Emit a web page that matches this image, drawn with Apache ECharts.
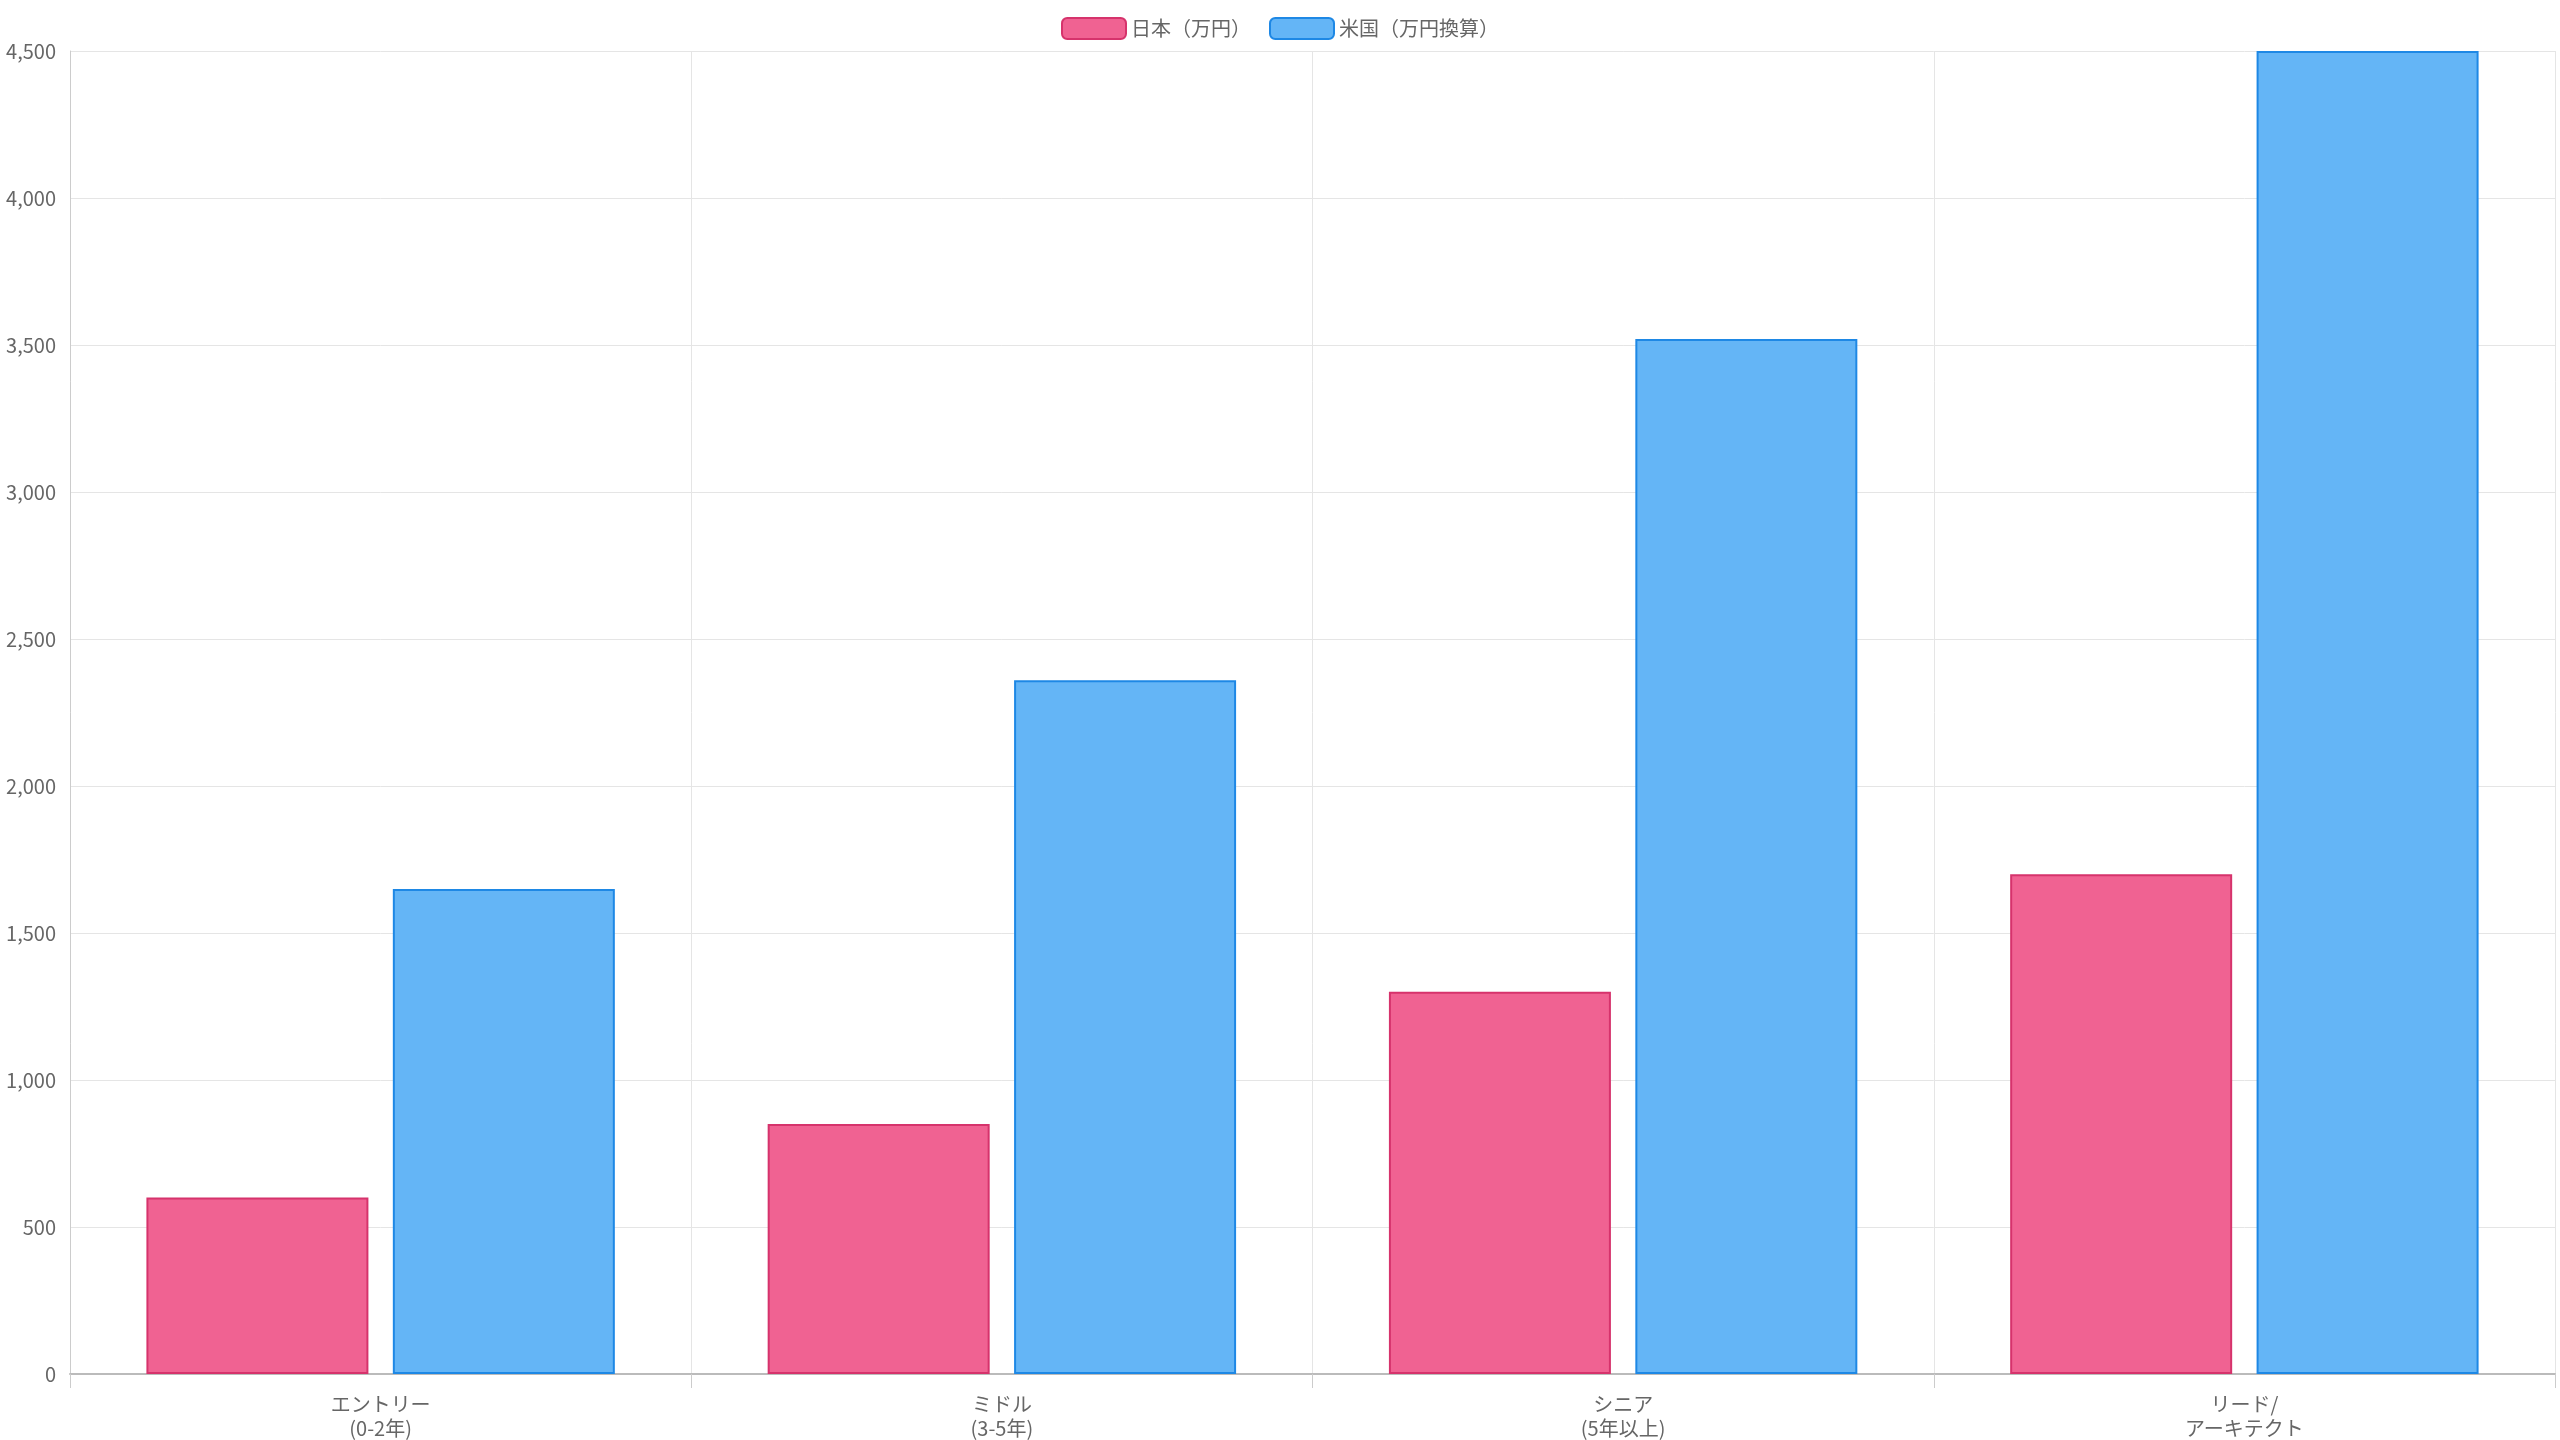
<!DOCTYPE html><html><head><meta charset="utf-8"><script src="https://cdn.jsdelivr.net/npm/echarts@6/dist/echarts.min.js"></script>
<style>html,body{margin:0;padding:0;background:#fff}#c{width:2560px;height:1440px}</style></head><body><div id="c"></div><script>
const categories=['エントリー\n(0-2年)','ミドル\n(3-5年)','シニア\n(5年以上)','リード/\nアーキテクト'];
const japan=[600,850,1300,1700];
const usa=[1650,2360,3520,4500];
const seriesNames=['日本（万円）','米国（万円換算）'];
const ch=echarts.init(document.getElementById('c'));
const F='"Noto Sans CJK JP","Noto Sans",sans-serif';
ch.setOption({
 animation:false,
 legend:{top:12,left:'center',itemWidth:64,itemHeight:21,itemGap:18,textStyle:{fontFamily:F,fontSize:20,color:'#666'}},
 grid:{left:70,right:5,top:51,bottom:49,containLabel:false},
 xAxis:{type:'category',data:categories,axisTick:{show:true,length:14,lineStyle:{color:'#ccc'}},
  axisLine:{lineStyle:{color:'#bbb',width:2}},splitLine:{show:true,lineStyle:{color:'#e5e5e5'}},
  axisLabel:{fontFamily:F,fontSize:20,color:'#666',margin:18,lineHeight:24}},
 yAxis:{type:'value',min:0,max:4500,interval:500,axisLine:{show:true,lineStyle:{color:'#ccc'}},
  splitLine:{lineStyle:{color:'#e5e5e5'}},axisLabel:{fontFamily:F,fontSize:20,color:'#666',margin:14}},
 series:[
  {name:seriesNames[0],type:'bar',data:japan,barWidth:222,barGap:'11%',itemStyle:{color:'rgba(240,98,146,1)',borderColor:'#d6336c',borderWidth:2}},
  {name:seriesNames[1],type:'bar',data:usa,barWidth:222,itemStyle:{color:'rgba(100,181,246,1)',borderColor:'#1e88e5',borderWidth:2}}
 ]
});
</script></body></html>
